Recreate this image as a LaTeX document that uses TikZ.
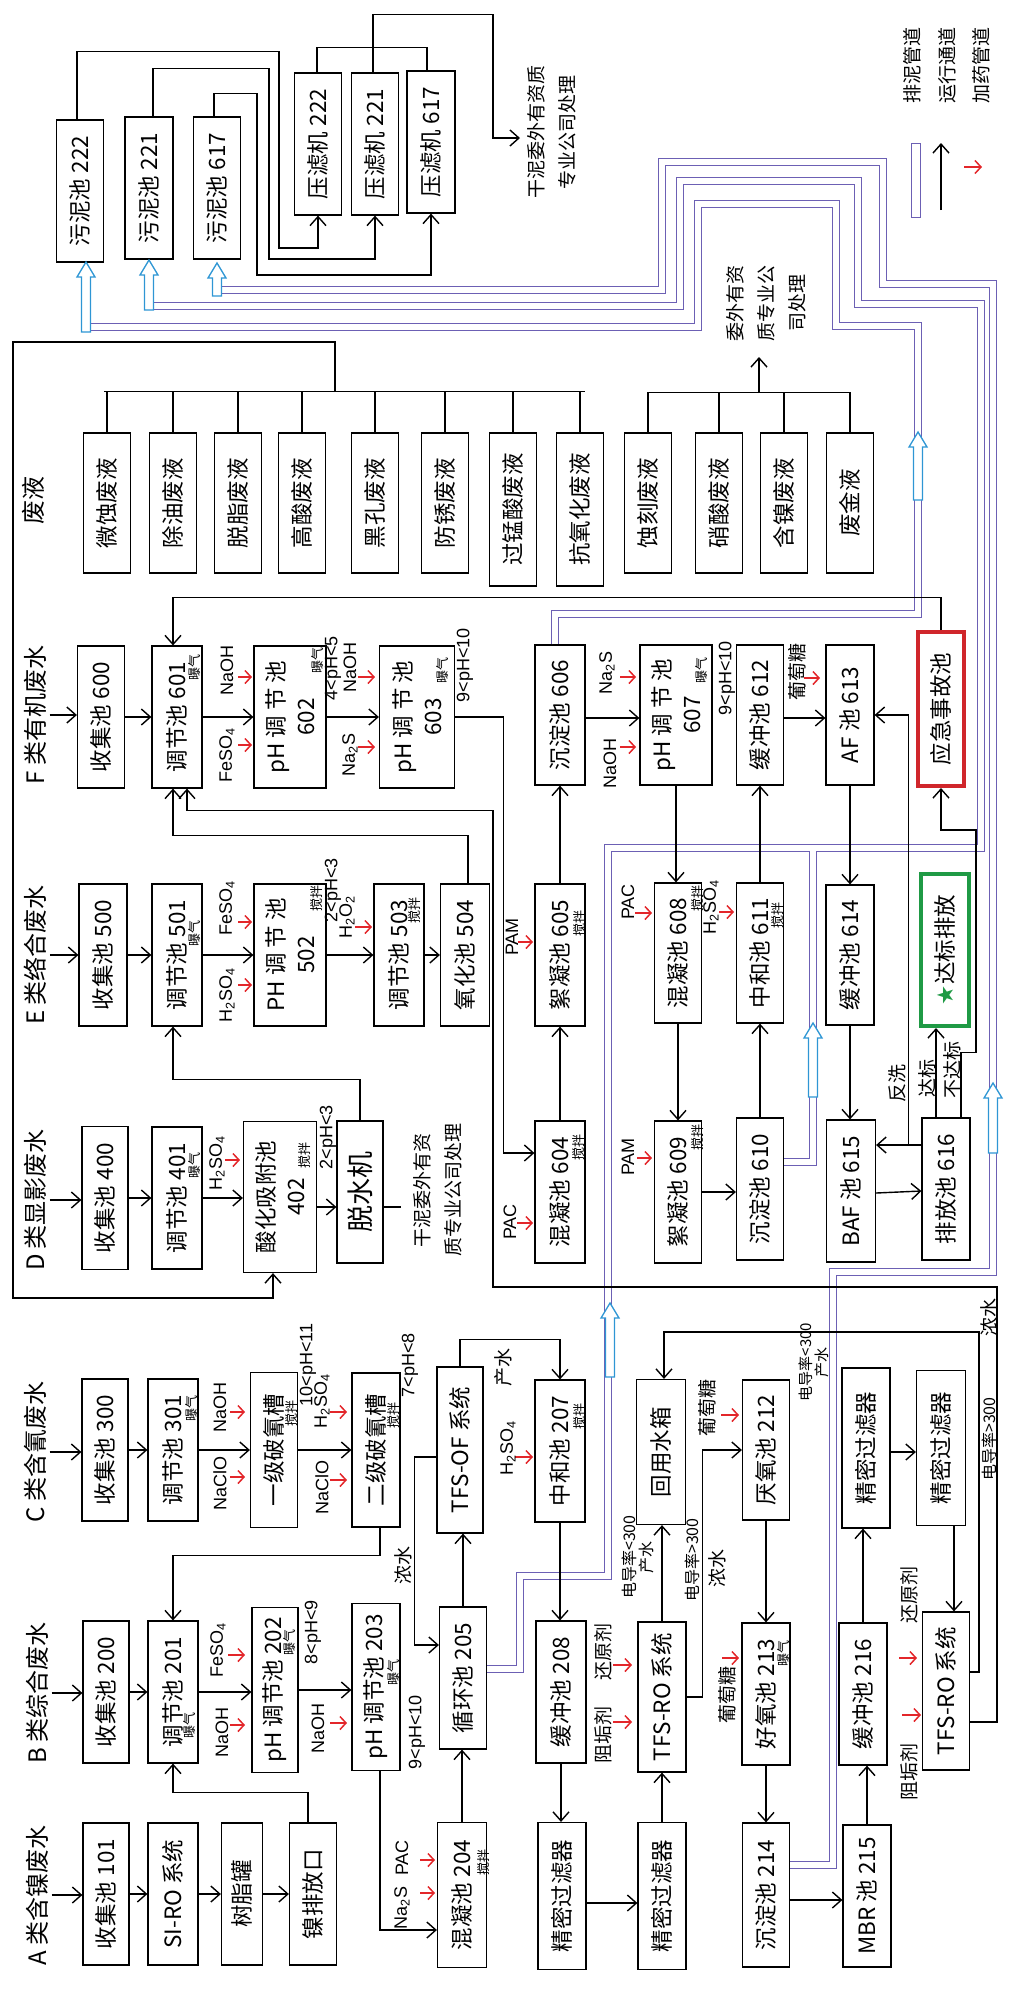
\documentclass[tikz,border=0pt]{standalone}
\usepackage{fontspec}
\setmainfont{Noto Sans CJK SC}
\newfontfamily\latinfont{Liberation Sans}
\newfontfamily\symbolfont{DejaVu Sans}
\usetikzlibrary{calc}
\usetikzlibrary{arrows.meta}
\definecolor{pipeColor}{HTML}{6C60B4}
\definecolor{sludgeColor}{HTML}{2E96D4}
\definecolor{doseColor}{HTML}{E3262A}
\definecolor{alarmColor}{HTML}{D0262B}
\definecolor{passColor}{HTML}{1F9A45}

\begin{document}
\begin{tikzpicture}[x=1pt, y=-1pt, >={Straight Barb[length=9pt,width=16pt]}]
\tikzset{
  pool/.style={draw, rotate=90, line width=1.2pt, minimum width=142pt, minimum height=48pt, inner sep=1pt,
    align=center, font=\fontsize{22.5}{30}\selectfont},
  head/.style={rotate=90, font=\fontsize{24}{28}\selectfont},
  chem/.style={rotate=90, font=\latinfont\fontsize{18}{20}\selectfont, inner sep=1pt},
  note/.style={rotate=90, font=\fontsize{19}{31}\selectfont, align=center, inner sep=1pt},
  tag/.style={rotate=90, font=\fontsize{13}{14}\selectfont, inner sep=0pt},
  flow/.style={line width=1.4pt, ->},
  link/.style={line width=1.4pt},
  dose/.style={doseColor, line width=1.5pt, -{Straight Barb[length=6pt,width=13pt]}},
  pipeout/.style={pipeColor, line width=8.5pt},
  pipein/.style={white, line width=6.5pt},
  pics/sludgearrow/.style={code={
    \draw[sludgeColor, line width=1.3pt, fill=white]
      (-4.5,#1) -- (-4.5,15) -- (-9,15) -- (0,0) -- (9,15) -- (4.5,15) -- (4.5,#1) -- cycle;}}
}
\useasboundingbox (0,0) rectangle (1009,1990);

% sludge line
\node[pool, minimum height=47pt] (sl222) at (80,191) {污泥池 222};
\node[pool] (sl221) at (149,188) {污泥池 221};
\node[pool, minimum height=47pt] (sl617) at (217,188) {污泥池 617};
\node[pool, minimum height=47pt] (pr222) at (318,144) {压滤机 222};
\node[pool, minimum height=47pt] (pr221) at (375,144) {压滤机 221};
\node[pool] (pr617) at (431,142) {压滤机 617};
\node[note] (dry1) at (552,132) {干泥委外有资质\\专业公司处理};

% legend
\node[note] (lg1) at (912,65) {排泥管道};
\node[note] (lg2) at (947,65) {运行通道};
\node[note] (lg3) at (981,65) {加药管道};
\draw[pipeColor, line width=1pt] (911,143) rectangle (920,217);
\draw[flow] (941,210) -- (941,143);
\draw[dose] (964,167) -- (982,167);

% waste liquids
\node[head] (hW) at (33,500) {废液};
\foreach \nm/\ix/\txt in {w1/107/微蚀废液, w2/173/除油废液, w3/238/脱脂废液, w4/302/高酸废液,
    w5/375/黑孔废液, w6/445/防锈废液, w9/648/蚀刻废液, w10/719/硝酸废液, w11/784/含镍废液, w12/850/废金液}
  \node[pool, minimum width=140pt, minimum height=47pt] (\nm) at (\ix,503) {\txt};
\node[pool, minimum width=153pt, minimum height=47pt] (w7) at (513,509.5) {过锰酸废液};
\node[pool, minimum width=153pt, minimum height=47pt] (w8) at (580,509.5) {抗氧化废液};
\node[note] (outw) at (766,303) {委外有资\\质专业公\\司处理};

% headers
\node[head] (hA) at (37,1895) {A 类含镍废水};
\node[head] (hB) at (37,1693) {B 类综合废水};
\node[head] (hC) at (35,1452) {C 类含氰废水};
\node[head] (hD) at (35,1200) {D 类显影废水};
\node[head] (hE) at (35,955) {E 类络合废水};
\node[head] (hF) at (35,715) {F 类有机废水};

% A
\node[pool, minimum height=46pt] (a1) at (106,1894) {收集池 101};
\node[pool, minimum height=50pt] (a2) at (173,1894) {SI-RO 系统};
\node[pool, minimum height=41pt] (a3) at (242,1894) {树脂罐};
\node[pool, minimum height=47pt] (a4) at (313,1894) {镍排放口};

% B
\node[pool, minimum height=46pt] (b1) at (106,1692) {收集池 200};
\node[pool, minimum height=50pt] (b2) at (173,1692) {调节池 201};
\node[pool, minimum height=46pt, minimum width=165pt] (b3) at (275,1690) {pH 调节池 202};
\node[pool, minimum width=167pt] (b4) at (376,1687) {pH 调节池 203};
\node[pool, minimum height=47pt] (b5) at (463,1678) {循环池 205};
\node[pool, minimum height=50pt] (b6) at (561,1692) {缓冲池 208};
\node[pool, minimum width=150pt] (b7) at (662,1697) {TFS-RO 系统};
\node[pool] (b8) at (766,1694) {好氧池 213};
\node[pool] (b9) at (863,1694) {缓冲池 216};
\node[pool, minimum height=47pt, minimum width=158pt] (b10) at (946,1691) {TFS-RO 系统};
\node[pool, minimum height=49pt, minimum width=145pt] (m204) at (462,1895) {混凝池 204};
\node[pool, minimum width=147pt] (pf1) at (562,1896) {精密过滤器};
\node[pool, minimum width=147pt] (pf2) at (662,1896) {精密过滤器};
\node[pool, minimum height=47pt, minimum width=144pt] (s214) at (766,1895) {沉淀池 214};
\node[pool] (m215) at (867,1896) {MBR 池 215};

% C
\node[pool, minimum height=46pt] (c1) at (105,1450) {收集池 300};
\node[pool, minimum height=50pt] (c2) at (173,1450) {调节池 301};
\node[pool, minimum height=47pt, minimum width=155pt] (c3) at (274,1450) {一级破氰槽};
\node[pool, minimum width=154pt] (c4) at (376,1450) {二级破氰槽};
\node[pool, minimum height=46pt, minimum width=166pt] (c5) at (460,1450) {TFS-OF 系统};
\node[pool, minimum height=50pt] (c6) at (560,1451) {中和池 207};
\node[pool, minimum height=49pt, minimum width=145pt] (c7) at (661,1452) {回用水箱};
\node[pool, minimum height=47pt, minimum width=140pt] (c8) at (766,1450) {厌氧池 212};
\node[pool, minimum width=160pt] (pf3) at (866,1448) {精密过滤器};
\node[pool, minimum height=49pt, minimum width=155pt] (pf4) at (941,1448) {精密过滤器};

% D
\node[pool, minimum height=46pt, minimum width=143pt] (d1) at (105,1198) {收集池 400};
\node[pool, minimum height=50pt] (d2) at (177,1198) {调节池 401};
\node[pool, minimum height=73pt, minimum width=151pt] (d3) at (280,1197) {酸化吸附池\\402};
\node[pool, minimum height=46pt, font=\fontsize{27}{30}\selectfont] (d4) at (360,1192) {脱水机};
\node[note] (dry2) at (438,1190) {干泥委外有资\\质专业公司处理};
\node[pool, minimum height=50pt] (d6) at (560,1192) {混凝池 604};
\node[pool, minimum height=47pt] (d7) at (678,1192) {絮凝池 609};
\node[pool, minimum height=47pt] (d8) at (760,1189) {沉淀池 610};
\node[pool, minimum height=49pt] (d9) at (851,1191) {BAF 池 615};
\node[pool] (d10) at (946,1189) {排放池 616};

% E
\node[pool] (e1) at (103,955) {收集池 500};
\node[pool, minimum height=50pt] (e2) at (177,955) {调节池 501};
\node[pool, minimum height=72pt] (e3) at (290,955) {PH 调 节 池\\502};
\node[pool, minimum height=50pt] (e4) at (399,955) {调节池 503};
\node[pool, minimum height=49pt] (e5) at (465,955) {氧化池 504};
\node[pool, minimum height=50pt] (e6) at (560,955) {絮凝池 605};
\node[pool, minimum height=47pt, minimum width=140pt] (e7) at (678,953) {混凝池 608};
\node[pool, minimum height=47pt, minimum width=140pt] (e8) at (760,953) {中和池 611};
\node[pool, minimum width=140pt] (e9) at (850,955) {缓冲池 614};
\node[pool, draw=passColor, line width=4pt, minimum height=48pt, minimum width=152pt] (e10) at (945,950)
  {{\symbolfont\color{passColor}★}达标排放};

% F
\node[pool, minimum height=47pt] (f1) at (101,717) {收集池 600};
\node[pool, minimum height=50pt] (f2) at (177,717) {调节池 601};
\node[pool, minimum height=72pt] (f3) at (290,717) {pH 调 节 池\\602};
\node[pool, minimum height=75pt] (f4) at (417,717) {pH 调 节 池\\603};
\node[pool, minimum height=50pt, minimum width=140pt] (f5) at (560,715) {沉淀池 606};
\node[pool, minimum height=72pt, minimum width=140pt] (f6) at (676,715) {pH 调 节 池\\607};
\node[pool, minimum height=47pt, minimum width=140pt] (f7) at (760,715) {缓冲池 612};
\node[pool, minimum width=140pt] (f8) at (850,715) {AF 池 613};
\node[pool, draw=alarmColor, line width=4pt, minimum height=46pt, minimum width=154pt] (f9) at (941,709) {应急事故池};

% aeration / stirring tags
\foreach \nm/\ix/\iy/\txt in {t201/190/1725/曝气, t202/290/1642/曝气, t203/394/1672/曝气, t213/784/1653/曝气,
    t301/192/1408/曝气, t401/195/1165/曝气, t501/195/933/曝气, t601/195/667/曝气, t602/318/660/曝气,
    t603/443/670/曝气, t607/702/670/曝气, t204/484/1862/搅拌, t207/580/1416/搅拌, tc3/292/1413/搅拌,
    tc4/394/1415/搅拌, t402/305/1155/搅拌, t502/317/898/搅拌, t503/415/910/搅拌, t605/580/923/搅拌,
    t608/698/898/搅拌, t611/778/915/搅拌, t604/579/1147/搅拌, t609/698/1137/搅拌}
  \node[tag] (\nm) at (\ix,\iy) {\txt};

% sludge pipes
\foreach \layer in {pipeout,pipein}{
  \draw[\layer] ($(f5.east)+(-5,0)$) -- (555,614) -- (918,614) -- (918,326) -- (836,326) -- (836,204)
    -- (698,204) -- (698,327) -- (86,327);
  \draw[\layer] ($(b5.south)+(0,-9)$) -- (520,1669) -- (520,1576) -- (608,1576) -- (608,848) -- (981,848)
    -- (981,304) -- (858,304) -- (858,181) -- (680,181) -- (680,306) -- (149,306);
  \draw[\layer] ($(d8.south)+(0,-27)$) -- (813,1162) -- (813,848);
  \draw[\layer] ($(s214.south)+(0,-30)$) -- (833,1865) -- (833,1272) -- (993,1272) -- (993,284)
    -- (883,284) -- (883,162) -- (662,162) -- (662,290) -- (217,290);
}
\pic at (86,262) {sludgearrow=70};
\pic at (149,260) {sludgearrow=50};
\pic at (217,263) {sludgearrow=33};
\pic at (918,432) {sludgearrow=68};
\pic at (610,1303) {sludgearrow=74};
\pic at (813,1023) {sludgearrow=74};
\pic at (993,1083) {sludgearrow=70};

% filter presses
\draw[flow] ($(sl222.east)+(-3,0)$) -- ++(0,-68) -| (279,248) -| (pr222.west);
\draw[flow] ($(sl221.east)+(4,0)$) -- ++(0,-48) -| (269,259) -| (pr221.west);
\draw[flow] ($(sl617.east)+(-3,0)$) -- ++(0,-23) -| (257,275) -| (pr617.west);
\draw[link] ($(pr222.east)+(-1,0)$) -- ++(0,-25) -| ($(pr617.east)+(-4,0)$);
\draw[flow] ($(pr221.east)+(-2,0)$) -- ++(0,-58) -| (493,138) -- (520,138);

% waste liquid buses
\foreach \nm in {w1,w2,w3,w4,w5,w6,w7,w8} \draw[link] (\nm.east) -- ++(0,-41);
\draw[link] ($(w1.east)+(-3,-41)$) -- ($(w8.east)+(5,-41)$);
\foreach \nm in {w9,w10,w11,w12} \draw[link] (\nm.east) -- ++(0,-40);
\draw[link] ($(w9.east)+(0,-40)$) -- ($(w12.east)+(0,-40)$);
\draw[flow] (759,393) -- (759,357);
\coordinate (busA) at (335,392);
\draw[flow] (busA) -- (335,342) -| (13,1298) -| ($(d3.west)+(-7,0)$);

% A
\draw[flow] (hA.south) -- (hA.south -| a1.north);
\draw[flow] (a1.south) -- (a1.south -| a2.north);
\draw[flow] (a2.south) -- (a2.south -| a3.north);
\draw[flow] (a3.south) -- (a3.south -| a4.north);
\draw[flow] ($(a4.east)+(-5,0)$) -- ++(0,-30) -| (b2.west);

% B
\draw[flow] (hB.south) -- (hB.south -| b1.north);
\draw[flow] (b1.south) -- (b1.south -| b2.north);
\draw[flow] (b2.south) -- (b2.south -| b3.north);
\draw[flow] (b3.south) -- (b3.south -| b4.north);
\draw[flow] ($(b4.west)+(4,0)$) |- ($(m204.north)+(0,35)$);
\draw[flow] (m204.east) -- (m204.east |- b5.west);
\draw[flow] (b5.east) -- (b5.east |- c5.west);
\draw[flow] ($(c5.north)+(0,7)$) -- ++(-22,0) |- ($(b5.north)+(0,-33)$);
\draw[flow] (c5.east) -- ++(0,-27) -| (c6.east);
\draw[flow] (c6.west) -- (c6.west |- b6.east);
\draw[flow] (b6.west) -- (b6.west |- pf1.east);
\draw[flow] ($(pf1.south)+(0,7)$) -- ($(pf2.north)+(0,7)$);
\draw[flow] (pf2.east) -- (pf2.east |- b7.west);
\draw[flow] (b7.east) -- (b7.east |- c7.west);
\draw[flow] (b7.south) -- ++(16,0) |- (c8.north);
\draw[flow] (c8.west) -- (c8.west |- b8.east);
\draw[flow] (b8.west) -- (b8.west |- s214.east);
\draw[flow] ($(s214.south)+(0,5)$) -- ($(m215.north)+(0,4)$);
\draw[flow] (m215.east) -- (m215.east |- b9.west);
\draw[flow] (b9.east) -- (b9.east |- pf3.west);
\draw[flow] ($(pf3.south)+(0,4)$) -- ($(pf4.north)+(0,4)$);
\draw[flow] ($(pf4.west)+(13,0)$) -- ($(b10.east)+(8,0)$);
\draw[flow] ($(b10.south)+(0,-19)$) -- ++(9,0) |- ($(c7.east)+(3,-47)$) -- ($(c7.east)+(3,0)$);
\draw[flow] ($(b10.south)+(0,31)$) -- ++(27,0) |- (493,1287) |- ($(f2.west)+(10,22)$) -- ($(f2.west)+(10,0)$);

% C
\draw[flow] (hC.south) -- (hC.south -| c1.north);
\draw[flow] (c1.south) -- (c1.south -| c2.north);
\draw[flow] (c2.south) -- (c2.south -| c3.north);
\draw[flow] (c3.south) -- (c3.south -| c4.north);
\draw[flow] ($(c4.west)+(4,0)$) -- ++(0,28) -| (b2.east);

% D
\draw[flow] (hD.south) -- (hD.south -| d1.north);
\draw[flow] (d1.south) -- (d1.south -| d2.north);
\draw[flow] (d2.south) -- (d2.south -| d3.north);
\draw[flow] ($(d3.south)+(0,10)$) -- ($(d4.north)+(0,15)$);
\draw[flow] (d4.east) |- ($(e2.west)+(-4,53)$) -- ($(e2.west)+(-4,0)$);
\draw[link] ($(d4.south)+(0,15)$) -- ++(17,0);

% E
\draw[flow] (hE.south) -- (hE.south -| e1.north);
\draw[flow] (e1.south) -- (e1.south -| e2.north);
\draw[flow] (e2.south) -- (e2.south -| e3.north);
\draw[flow] (e3.south) -- (e3.south -| e4.north);
\draw[flow] (e4.south) -- (e4.south -| e5.north);
\draw[flow] ($(e5.east)+(3,0)$) |- ($(f2.west)+(-4,47)$) -- ($(f2.west)+(-4,0)$);

% F
\draw[flow] (hF.south) -- (hF.south -| f1.north);
\draw[flow] (f1.south) -- (f1.south -| f2.north);
\draw[flow] (f2.south) -- (f2.south -| f3.north);
\draw[flow] (f3.south) -- (f3.south -| f4.north);
\draw[flow] (f4.south) -- ++(48.5,0) |- ($(d6.north)+(0,-39)$);
\draw[flow] (f9.east) |- ($(f2.east)+(-4,-48)$) -- ($(f2.east)+(-4,0)$);
\draw[flow] (d6.east) -- (d6.east |- e6.west);
\draw[flow] (e6.east) -- (e6.east |- f5.west);
\draw[flow] ($(f5.south)+(0,3)$) -- ($(f6.north)+(0,3)$);
\draw[flow] (f6.west) -- (f6.west |- e7.east);
\draw[flow] (e7.west) -- (e7.west |- d7.east);
\draw[flow] (d7.south) -- (d7.south -| d8.north);
\draw[flow] (d8.east) -- (d8.east |- e8.west);
\draw[flow] (e8.east) -- (e8.east |- f7.west);
\draw[flow] ($(f7.south)+(0,3)$) -- ($(f8.north)+(0,3)$);
\draw[flow] (f8.west) -- (f8.west |- e9.east);
\draw[flow] (e9.west) -- (e9.west |- d9.east);
\draw[flow] ($(d9.south)+(0,2)$) -- ($(d10.north)+(0,2)$);
\draw[flow] ($(d10.east)+(-10,0)$) -- ($(e10.west)+(-9,0)$);
\draw[flow] ($(d10.east)+(15,0)$) -- ++(0,-65) -- ++(15,0) |- ($(f9.west)+(0,42)$) -- (f9.west);
\draw[flow] ($(d10.north)+(0,-44)$) -- ($(d9.south)+(0,-46)$);
\draw[flow] ($(d10.north)+(-13,-44)$) |- (f8.south);
\node[note] (lbBack) at (897,1083) {反洗};
\node[note] (lbPass) at (927,1078) {达标};
\node[note] (lbFail) at (952,1070) {不达标};

% dosing
\foreach \xa/\xb/\iy in {228/245/1655, 230/245/1725, 330/347/1723, 420/435/1893, 420/435/1860,
    613/632/1665, 613/632/1722, 721/739/1415, 722/739/1658, 899/917/1658, 902/921/1715, 515/533/1457,
    230/245/1412, 230/245/1477, 330/347/1412, 330/347/1480, 225/240/1160, 517/533/1223, 637/652/1158,
    238/252/922, 238/252/985, 355/372/927, 518/533/942, 635/652/913, 719/734/912,
    238/252/677, 238/252/745, 358/375/677, 358/375/747, 620/636/677, 620/636/747, 804/820/678}
  \draw[dose] (\xa,\iy) -- (\xb,\iy);

% B labels
\node[chem] (lb1) at (218,1650) {FeSO\textsubscript{4}};
\node[chem] (lb2) at (222,1732) {NaOH};
\node[chem] (lb3) at (313,1632) {8<pH<9};
\node[chem] (lb4) at (318,1728) {NaOH};
\node[chem] (lb5) at (417,1732) {9<pH<10};
\node[chem] (lb6) at (402,1908) {Na\textsubscript{2}S};
\node[chem] (lb7) at (402,1858) {PAC};
\node[note] (lb8) at (403,1565) {浓水};
\node[note] (lb9) at (503,1367) {产水};
\node[chem] (lb10) at (508,1448) {H\textsubscript{2}SO\textsubscript{4}};
\node[note] (lb11) at (603,1735) {阻垢剂};
\node[note] (lb12) at (603,1652) {还原剂};
\node[note, font=\fontsize{16}{17}\selectfont] (lb13) at (638,1557) {电导率<300\\产水};
\node[note, font=\fontsize{16}{17}\selectfont] (lb14) at (692,1560) {电导率>300};
\node[note] (lb15) at (717,1568) {浓水};
\node[note] (lb16) at (707,1408) {葡萄糖};
\node[note] (lb17) at (727,1695) {葡萄糖};
\node[note] (lb18) at (909,1595) {还原剂};
\node[note] (lb19) at (909,1772) {阻垢剂};
\node[note, font=\fontsize{15}{16}\selectfont] (lb20) at (814,1362) {电导率<300\\产水};
\node[note] (lb21) at (989,1317) {浓水};
\node[note, font=\fontsize{16}{17}\selectfont] (lb22) at (989,1439) {电导率>300};

% C labels
\node[chem] (lc1) at (220,1407) {NaOH};
\node[chem] (lc2) at (220,1483) {NaClO};
\node[chem] (lc3) at (308,1365) {10<pH<11};
\node[chem] (lc4) at (322,1401) {H\textsubscript{2}SO\textsubscript{4}};
\node[chem] (lc5) at (322,1487) {NaClO};
\node[chem] (lc6) at (410,1365) {7<pH<8};

% D labels
\node[chem] (ld1) at (217,1163) {H\textsubscript{2}SO\textsubscript{4}};
\node[chem] (ld2) at (328,1137) {2<pH<3};
\node[chem] (ld3) at (510,1222) {PAC};
\node[chem] (ld4) at (628,1157) {PAM};

% E labels
\node[chem] (le1) at (227,908) {FeSO\textsubscript{4}};
\node[chem] (le2) at (227,995) {H\textsubscript{2}SO\textsubscript{4}};
\node[chem] (le3) at (333,890) {2<pH<3};
\node[chem] (le4) at (347,917) {H\textsubscript{2}O\textsubscript{2}};
\node[chem] (le5) at (512,937) {PAM};
\node[chem] (le6) at (628,902) {PAC};
\node[chem] (le7) at (711,907) {H\textsubscript{2}SO\textsubscript{4}};

% F labels
\node[chem] (lf1) at (227,670) {NaOH};
\node[chem] (lf2) at (227,755) {FeSO\textsubscript{4}};
\node[chem] (lf3) at (333,668) {4<pH<5};
\node[chem] (lf4) at (350,667) {NaOH};
\node[chem] (lf5) at (350,755) {Na\textsubscript{2}S};
\node[chem] (lf6) at (465,665) {9<pH<10};
\node[chem] (lf7) at (607,673) {Na\textsubscript{2}S};
\node[chem] (lf8) at (610,763) {NaOH};
\node[chem] (lf9) at (727,678) {9<pH<10};
\node[note] (lf10) at (797,672) {葡萄糖};
\end{tikzpicture}
\end{document}
